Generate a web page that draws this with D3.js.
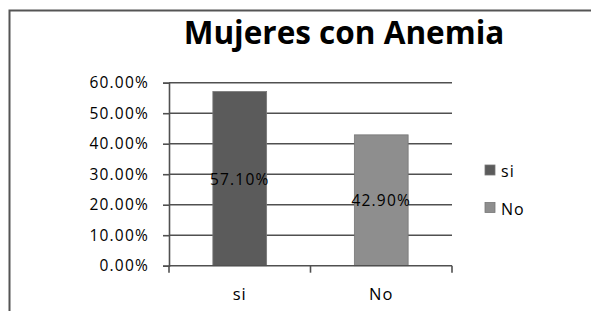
<!DOCTYPE html>
<html>
<head>
<meta charset="utf-8">
<script src="https://cdn.jsdelivr.net/npm/d3@7"></script>
<style>
  body { margin: 0; background: #fff; }
  text { font-family: "Open Sans", "Noto Sans", sans-serif; }
</style>
</head>
<body>
<div id="chart"></div>
<script>
// chart data
const categories = ["si", "No"];
const values = [0.571, 0.429];
const barColors = ["#5b5b5b", "#8e8e8e"];
const yTicks = [0, 0.1, 0.2, 0.3, 0.4, 0.5, 0.6];
const title = "Mujeres con Anemia";

const W = 591, H = 311;
const plot = {left: 169, right: 452, top: 82.7, bottom: 265.7};

const svg = d3.select("#chart").append("svg")
    .attr("width", W)
    .attr("height", H);

// outer frame (only top and left visible in the crop)
svg.append("path")
    .attr("d", "M9.5," + H + " V10.5 H" + W)
    .attr("fill", "none")
    .attr("stroke", "#555")
    .attr("stroke-width", 2);

// title
svg.append("text")
    .attr("x", 344)
    .attr("y", 44)
    .attr("text-anchor", "middle")
    .style("font-size", "31.5px")
    .style("font-weight", "bold")
    .attr("fill", "#000")
    .text(title);

var x = d3.scaleBand()
    .domain(categories)
    .range([plot.left, plot.right]);

var y = d3.scaleLinear()
    .domain([0, 0.6])
    .range([plot.bottom, plot.top]);

// gridlines
svg.append("g")
    .selectAll("line")
    .data(yTicks.slice(1))
    .join("line")
    .attr("x1", plot.left)
    .attr("x2", plot.right)
    .attr("y1", d => y(d))
    .attr("y2", d => y(d))
    .attr("stroke", "#505050")
    .attr("stroke-width", 1.6);

// bars
svg.append("g")
    .selectAll("rect")
    .data(values)
    .join("rect")
    .attr("x", (d, i) => x(categories[i]) + x.bandwidth() * 0.31)
    .attr("width", x.bandwidth() * 0.38)
    .attr("y", d => y(d))
    .attr("height", d => y(0) - y(d))
    .attr("fill", (d, i) => barColors[i])
    .attr("stroke", "#777")
    .attr("stroke-width", 0.8);

// Y axis
var yAxis = svg.append("g")
    .attr("transform", "translate(" + plot.left + ",0)")
    .call(d3.axisLeft(y).tickValues(yTicks).tickFormat(d3.format(".2%")).tickSize(6).tickPadding(14));
yAxis.select(".domain").attr("stroke", "#505050").attr("stroke-width", 1.6);
yAxis.selectAll(".tick line").attr("stroke", "#505050").attr("stroke-width", 1.6);
yAxis.selectAll("text")
    .style("font-size", "15.5px")
    .style("letter-spacing", "1.2px")
    .style("font-family", "'Open Sans', sans-serif")
    .attr("fill", "#000");

// X axis with ticks at band boundaries
var xAxis = svg.append("g")
    .attr("transform", "translate(0," + plot.bottom + ")");
xAxis.append("line")
    .attr("x1", plot.left).attr("x2", plot.right)
    .attr("stroke", "#505050").attr("stroke-width", 1.6);
xAxis.selectAll(".xtick")
    .data(categories.map(c => x(c)).concat([plot.right]))
    .join("line")
    .attr("x1", d => d).attr("x2", d => d)
    .attr("y1", 0).attr("y2", 7)
    .attr("stroke", "#505050").attr("stroke-width", 1.6);
xAxis.selectAll(".xlabel")
    .data(categories)
    .join("text")
    .attr("x", d => x(d) + x.bandwidth() / 2)
    .attr("y", 34)
    .attr("text-anchor", "middle")
    .style("font-size", "16.5px")
    .style("letter-spacing", "1px")
    .attr("fill", "#000")
    .text(d => d);

// data labels in the middle of each bar
svg.append("g")
    .selectAll("text")
    .data(values)
    .join("text")
    .attr("x", (d, i) => x(categories[i]) + x.bandwidth() / 2)
    .attr("y", d => (y(d) + y(0)) / 2 + 6)
    .attr("text-anchor", "middle")
    .style("font-size", "15.5px")
    .style("letter-spacing", "1.2px")
    .attr("fill", "#000")
    .text(d => d3.format(".2%")(d));

// legend
var legend = svg.append("g");
categories.forEach((c, i) => {
    legend.append("rect")
        .attr("x", 485).attr("y", 165 + i * 37.5)
        .attr("width", 10).attr("height", 10)
        .attr("fill", barColors[i])
        .attr("stroke", "#777").attr("stroke-width", 0.8);
    legend.append("text")
        .attr("x", 501).attr("y", 177 + i * 37.5)
        .style("font-size", "16px")
        .style("letter-spacing", "1px")
        .attr("fill", "#000")
        .text(c);
});
</script>
</body>
</html>
